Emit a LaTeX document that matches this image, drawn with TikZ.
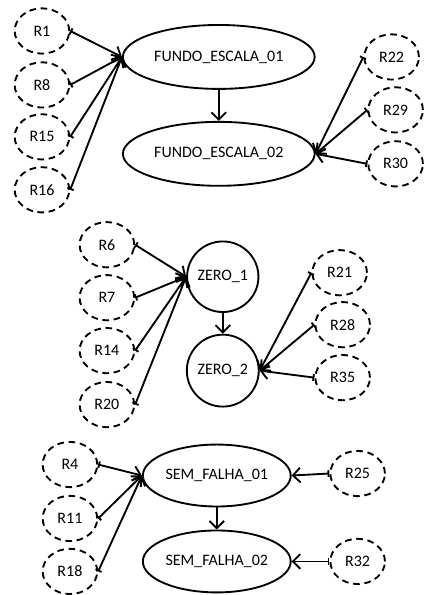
\documentclass[tikz,border=0pt]{standalone}
\usepackage{fontspec}
\setmainfont{Carlito}
\usetikzlibrary{shapes.geometric,arrows.meta}

\tikzset{every picture/.style={line width=1.4pt}}
\tikzset{
  rule/.style={ellipse,draw,dash pattern={on 5pt off 3.5pt},inner sep=0pt,
    minimum width=41pt,minimum height=34pt,font=\fontsize{12}{14}\selectfont},
  state/.style={ellipse,draw,inner sep=0pt,font=\fontsize{12}{14}\selectfont},
  link/.style={{Bar[width=5pt]}-{Straight Barb[length=5.5pt,width=11pt]}},
  down/.style={-{Straight Barb[length=5.5pt,width=11pt]}}
}

\begin{document}
\begin{tikzpicture}[x=0.75pt,y=0.75pt,yscale=-1,xscale=1]
\path (0,0) rectangle (425,595); %set diagram size

%Shape: Ellipse FUNDO_ESCALA
\node [state,minimum width=144pt,minimum height=48pt] (fe1) at (219,57) {FUNDO\_ESCALA\_01};
\node [state,minimum width=144pt,minimum height=48pt] (fe2) at (219,154) {FUNDO\_ESCALA\_02};
\draw [down] (fe1.south) -- (fe2.north);

% Text Node
\node [rule] (r1) at (42,31) {R1};
\node [rule] (r8) at (42,85) {R8};
\node [rule] (r15) at (42,137) {R15};
\node [rule] (r16) at (42,190) {R16};
\node [rule] (r22) at (392,57) {R22};
\node [rule] (r29) at (396,110) {R29};
\node [rule] (r30) at (396,164) {R30};

%Straight Lines
\foreach \r in {r1,r8,r15,r16}
  \draw [link] (\r.east) -- (fe1.west);
\foreach \r in {r22,r29,r30}
  \draw [link] (\r.west) -- (fe2.east);

%Shape: Circle ZERO
\node [state,minimum width=53pt,minimum height=53pt] (z1) at (223,277) {ZERO\_1};
\node [state,minimum width=54pt,minimum height=54pt] (z2) at (223,371) {ZERO\_2};
\draw [down] (z1.south) -- (z2.north);

% Text Node
\node [rule] (r6) at (107,245) {R6};
\node [rule] (r7) at (107,298) {R7};
\node [rule] (r14) at (107,351) {R14};
\node [rule] (r20) at (107,405) {R20};
\node [rule] (r21) at (340,273) {R21};
\node [rule] (r28) at (343,325) {R28};
\node [rule] (r35) at (343,378) {R35};

%Straight Lines
\foreach \r in {r6,r7,r14,r20}
  \draw [link] (\r.east) -- (z1.west);
\foreach \r in {r21,r28,r35}
  \draw [link] (\r.west) -- (z2.east);

%Shape: Ellipse SEM_FALHA
\node [state,minimum width=111pt,minimum height=46.5pt] (sf1) at (217,476) {SEM\_FALHA\_01};
\node [state,minimum width=111pt,minimum height=46.5pt] (sf2) at (217,562) {SEM\_FALHA\_02};
\draw [down] (sf1.south) -- (sf2.north);

% Text Node
\node [rule] (r4) at (70,465) {R4};
\node [rule] (r11) at (70,519) {R11};
\node [rule] (r18) at (70,572) {R18};
\node [rule] (r25) at (358,474) {R25};
\node [rule] (r32) at (358,562) {R32};

%Straight Lines
\foreach \r in {r4,r11,r18}
  \draw [link] (\r.east) -- (sf1.west);
\draw [link] (r25.west) -- (sf1.east);
\draw [link] (r32.west) -- (sf2.east);

\end{tikzpicture}
\end{document}
